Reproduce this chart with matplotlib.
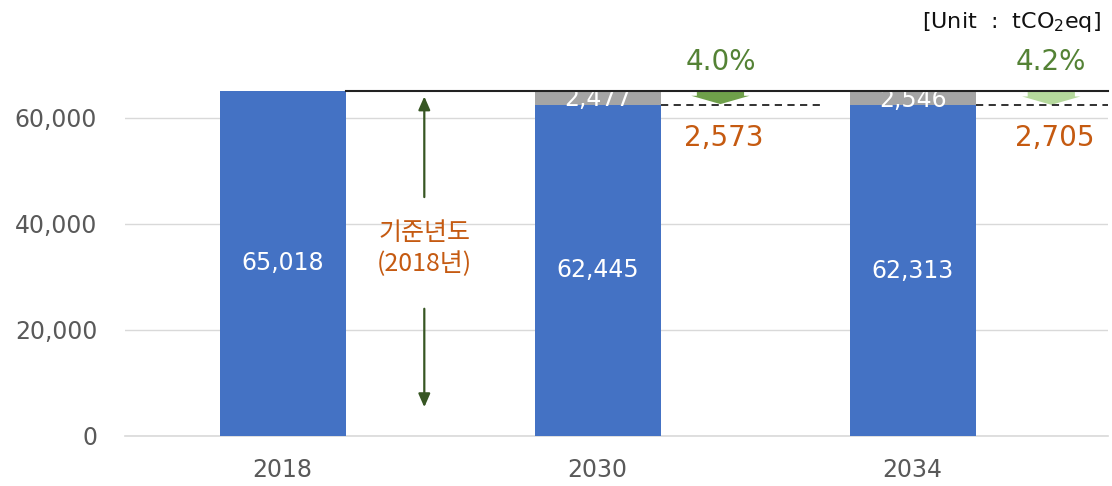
"""Stacked bar chart: base-year emissions vs 2030/2034 with reduction annotations."""

import matplotlib.pyplot as plt
from matplotlib.ticker import FuncFormatter

plt.rcParams["font.family"] = ["DejaVu Sans", "Noto Sans CJK KR"]

# ---------------------------------------------------------------------------
# Data
# ---------------------------------------------------------------------------
years = ["2018", "2030", "2034"]
emissions = [65018, 62445, 62313]
offsets = [0, 2477, 2546]
base_value = 65018
reductions = [2573, 2705]
reduction_pct = ["4.0%", "4.2%"]
yticks = [0, 20000, 40000, 60000]

BLUE = "#4472C4"
GRAY = "#A5A5A5"
ORANGE = "#C55A11"
GREEN_TXT = "#548235"
ARROW_COLORS = ["#6FA04A", "#B5D99C"]
TICK_GRAY = "#595959"

fig = plt.figure(figsize=(11.12, 4.86), dpi=100)
ax = fig.add_axes([0.1124, 0.1029, 0.884, 0.7099])

x = list(range(len(years)))
width = 0.4
ax.bar(x, emissions, width=width, color=BLUE, zorder=2)
ax.bar(x[1:], offsets[1:], bottom=emissions[1:], width=width, color=GRAY, zorder=2)

# value labels
for xi, v in zip(x, emissions):
    ax.text(xi, v / 2, f"{v:,}", color="white", ha="center", va="center",
            fontsize=17, zorder=3)
for xi, v, o in zip(x[1:], emissions[1:], offsets[1:]):
    ax.text(xi, v + o / 2 - 200, f"{o:,}", color="white", ha="center",
            va="center", fontsize=17, zorder=3, clip_on=True)

# base-year reference line
ax.plot([x[0] + width / 2, 2.62], [base_value, base_value], color="#222222",
        lw=1.5, zorder=4, clip_on=False)

# reduction annotations
ann_x = [1.39, 2.44]
dash_end = [1.72, 2.62]
for i, (ax_x, red, pct) in enumerate(zip(ann_x, reductions, reduction_pct)):
    level = emissions[i + 1]
    ax.plot([x[i + 1] + width / 2, dash_end[i]], [level, level],
            color="#222222", lw=1.3, ls=(0, (4, 3)), zorder=4, clip_on=False)
    ax.annotate("", xy=(ax_x, level + 100), xytext=(ax_x, base_value - 50),
                arrowprops=dict(arrowstyle="simple,head_width=4.2,head_length=0.6,tail_width=3.4",
                                color=ARROW_COLORS[i], lw=0,
                                shrinkA=0, shrinkB=0), zorder=3)
    ax.text(ax_x, base_value + 5400, pct, color=GREEN_TXT, ha="center",
            va="center", fontsize=20, clip_on=False)
    ax.text(ax_x + 0.01, level - 6200, f"{red:,}", color=ORANGE, ha="center",
            va="center", fontsize=20)

# base-year double arrow
arr_x = 0.45
ax.annotate("", xy=(arr_x, base_value - 500), xytext=(arr_x, 44500),
            arrowprops=dict(arrowstyle="-|>,head_width=0.35,head_length=0.8",
                            color="#375623", lw=1.6))
ax.annotate("", xy=(arr_x, 4900), xytext=(arr_x, 24500),
            arrowprops=dict(arrowstyle="-|>,head_width=0.35,head_length=0.8",
                            color="#375623", lw=1.6))
ax.text(arr_x, 35400, "기준년도\n(2018년)", color=ORANGE, ha="center",
        va="center", fontsize=18, linespacing=1.25,
        family=["Noto Sans CJK KR"])

# axes styling
ax.set_xlim(-0.5, 2.62)
ax.set_ylim(0, base_value)
ax.set_xticks(x)
ax.set_xticklabels(years)
ax.set_yticks(yticks)
ax.yaxis.set_major_formatter(FuncFormatter(lambda v, p: f"{int(v):,}"))
ax.tick_params(axis="both", length=0, colors=TICK_GRAY, labelsize=17)
ax.tick_params(axis="x", pad=16)
ax.tick_params(axis="y", pad=20)
ax.grid(axis="y", color="#D9D9D9", lw=1, zorder=0)
ax.axhline(0, color="#D9D9D9", lw=1.2, zorder=1, clip_on=False)
ax.set_axisbelow(True)
for s in ax.spines.values():
    s.set_visible(False)

fig.text(0.99, 0.955, "[Unit  :  tCO$_2$eq]", ha="right", va="center",
         fontsize=16, color="#111111")

fig.savefig("out.png", dpi=100)
